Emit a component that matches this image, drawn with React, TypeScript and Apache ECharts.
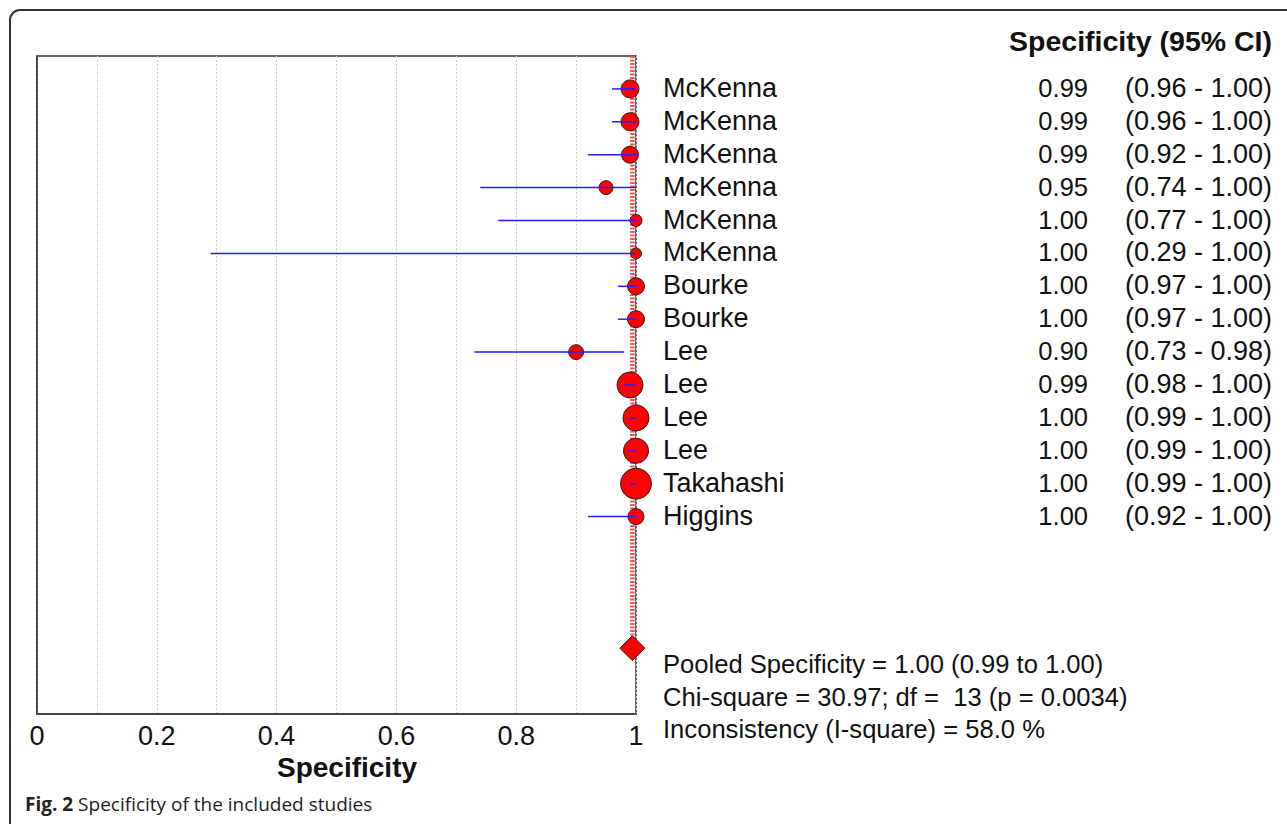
import React, { useEffect, useRef } from "react";
import * as echarts from "echarts";

const studyNames = ["McKenna", "McKenna", "McKenna", "McKenna", "McKenna", "McKenna", "Bourke", "Bourke", "Lee", "Lee", "Lee", "Lee", "Takahashi", "Higgins"];
const specificity = [0.99, 0.99, 0.99, 0.95, 1.0, 1.0, 1.0, 1.0, 0.9, 0.99, 1.0, 1.0, 1.0, 1.0];
const ciLower = [0.96, 0.96, 0.92, 0.74, 0.77, 0.29, 0.97, 0.97, 0.73, 0.98, 0.99, 0.99, 0.99, 0.92];
const ciUpper = [1.0, 1.0, 1.0, 1.0, 1.0, 1.0, 1.0, 1.0, 0.98, 1.0, 1.0, 1.0, 1.0, 1.0];
const studyWeights = [8.1, 8.1, 7.2, 4.9, 3.6, 3.0, 7.2, 7.2, 5.6, 16.9, 17.0, 15.7, 24.0, 6.4];
const xTickLabels = [0, 0.2, 0.4, 0.6, 0.8, 1];
const pooledEstimate = 0.994;
const pooledRow = 17;
const summaryLines = [
  "Pooled Specificity = 1.00 (0.99 to 1.00)",
  "Chi-square = 30.97; df =  13 (p = 0.0034)",
  "Inconsistency (I-square) = 58.0 %",
];
const headerText = "Specificity (95% CI)";
const axisTitle = "Specificity";
const captionBold = "Fig. 2";
const captionText = " Specificity of the included studies";

const FONT = "Liberation Sans";

export default function App() {
  const ref = useRef<HTMLDivElement>(null);

  useEffect(() => {
    if (!ref.current) return;
    const chart = echarts.init(ref.current, undefined, { renderer: "svg" });

    const rows = studyNames.map((_, i) => [i, specificity[i], ciLower[i], ciUpper[i], studyWeights[i]]);

    const option: any = {
      animation: false,
      backgroundColor: "#ffffff",
      grid: {
        left: 37,
        right: 651,
        top: 56,
        bottom: 110,
        show: true,
        borderColor: "#333",
        borderWidth: 1.5,
        backgroundColor: "transparent",
      },
      xAxis: {
        type: "value",
        min: 0,
        max: 1,
        interval: 0.1,
        axisLine: { show: true, onZero: false, lineStyle: { color: "#444", width: 2 } },
        axisTick: { show: false },
        splitLine: { show: true, lineStyle: { color: "#cfcfcf", width: 1, type: [2, 2] } },
        axisLabel: {
          margin: 8,
          color: "#111",
          fontSize: 27,
          fontFamily: FONT,
          showMinLabel: true,
          showMaxLabel: true,
          formatter: (v: number) => {
            const r = parseFloat(v.toFixed(1));
            return xTickLabels.some((t) => Math.abs(t - r) < 1e-6) ? String(r) : "";
          },
        },
      },
      yAxis: {
        type: "value",
        min: -1,
        max: 19,
        inverse: true,
        axisLine: { show: true, onZero: false, lineStyle: { color: "#333", width: 1.5 } },
        axisTick: { show: false },
        axisLabel: { show: false },
        splitLine: { show: false },
      },
      series: [
        {
          type: "line",
          data: [
            [pooledEstimate, -1],
            [pooledEstimate, pooledRow],
          ],
          symbol: "none",
          lineStyle: { color: "#f25555", width: 4.5, type: [2, 1.5] },
          z: 2,
        },
        {
          type: "custom",
          z: 3,
          clip: false,
          data: rows,
          renderItem: (params: any, api: any) => {
            const i = params.dataIndex;
            const y = api.coord([0, api.value(0)])[1];
            const xe = api.coord([api.value(1), 0])[0];
            const xl = api.coord([api.value(2), 0])[0];
            const xh = api.coord([api.value(3), 0])[0];
            const r = (6.3 * Math.sqrt(api.value(4))) / 2;
            const textStyle = { fill: "#111", fontFamily: FONT, verticalAlign: "middle" };
            return {
              type: "group",
              children: [
                {
                  type: "circle",
                  shape: { cx: xe, cy: y, r },
                  style: { fill: "#ff0000", stroke: "#222", lineWidth: 1 },
                },
                {
                  type: "line",
                  shape: { x1: xl, y1: y, x2: xh, y2: y },
                  style: { stroke: "#1f1fff", lineWidth: 1.5 },
                },
                {
                  type: "text",
                  style: { ...textStyle, fontSize: 27, text: studyNames[i], x: 663, y: y - 1, align: "left" },
                },
                {
                  type: "text",
                  style: { ...textStyle, fontSize: 25.5, text: specificity[i].toFixed(2), x: 1088, y: y - 1, align: "right" },
                },
                {
                  type: "text",
                  style: {
                    ...textStyle,
                    fontSize: 27,
                    text: "(" + ciLower[i].toFixed(2) + " - " + ciUpper[i].toFixed(2) + ")",
                    x: 1272,
                    y: y - 1,
                    align: "right",
                  },
                },
              ],
            };
          },
        },
        {
          type: "scatter",
          z: 4,
          data: [[pooledEstimate, pooledRow]],
          symbol: "diamond",
          symbolSize: [25, 25],
          itemStyle: { color: "#ff0000", borderColor: "#222", borderWidth: 1, opacity: 1 },
        },
      ],
      graphic: [
        {
          type: "rect",
          silent: true,
          shape: { x: 10, y: 10, width: 1400, height: 900, r: 10 },
          style: { fill: "none", stroke: "#333", lineWidth: 2 },
        },
        {
          type: "text",
          style: {
            text: headerText,
            x: 1272,
            y: 41,
            align: "right",
            verticalAlign: "middle",
            fontSize: 28.5,
            fontWeight: "bold",
            fontFamily: FONT,
            fill: "#111",
          },
        },
        ...summaryLines.map((t, k) => ({
          type: "text",
          style: {
            text: t,
            x: 663,
            y: 664 + k * 32.5,
            align: "left",
            verticalAlign: "middle",
            fontSize: 25.6,
            fontFamily: FONT,
            fill: "#111",
          },
        })),
        {
          type: "text",
          style: {
            text: axisTitle,
            x: 347,
            y: 767,
            align: "center",
            verticalAlign: "middle",
            fontSize: 28,
            fontWeight: "bold",
            fontFamily: FONT,
            fill: "#111",
          },
        },
        {
          type: "text",
          style: {
            text: "{b|" + captionBold + "}" + captionText,
            x: 25,
            y: 804,
            verticalAlign: "middle",
            fontSize: 19,
            fontFamily: "Open Sans",
            fill: "#222",
            rich: {
              b: { fontWeight: "bold", fontSize: 19, fontFamily: "Open Sans", fill: "#222" },
            },
          },
        },
      ],
    };

    chart.setOption(option);
    return () => chart.dispose();
  }, []);

  return <div ref={ref} style={{ position: "fixed", left: 0, top: 0, width: 1287, height: 824 }} />;
}
